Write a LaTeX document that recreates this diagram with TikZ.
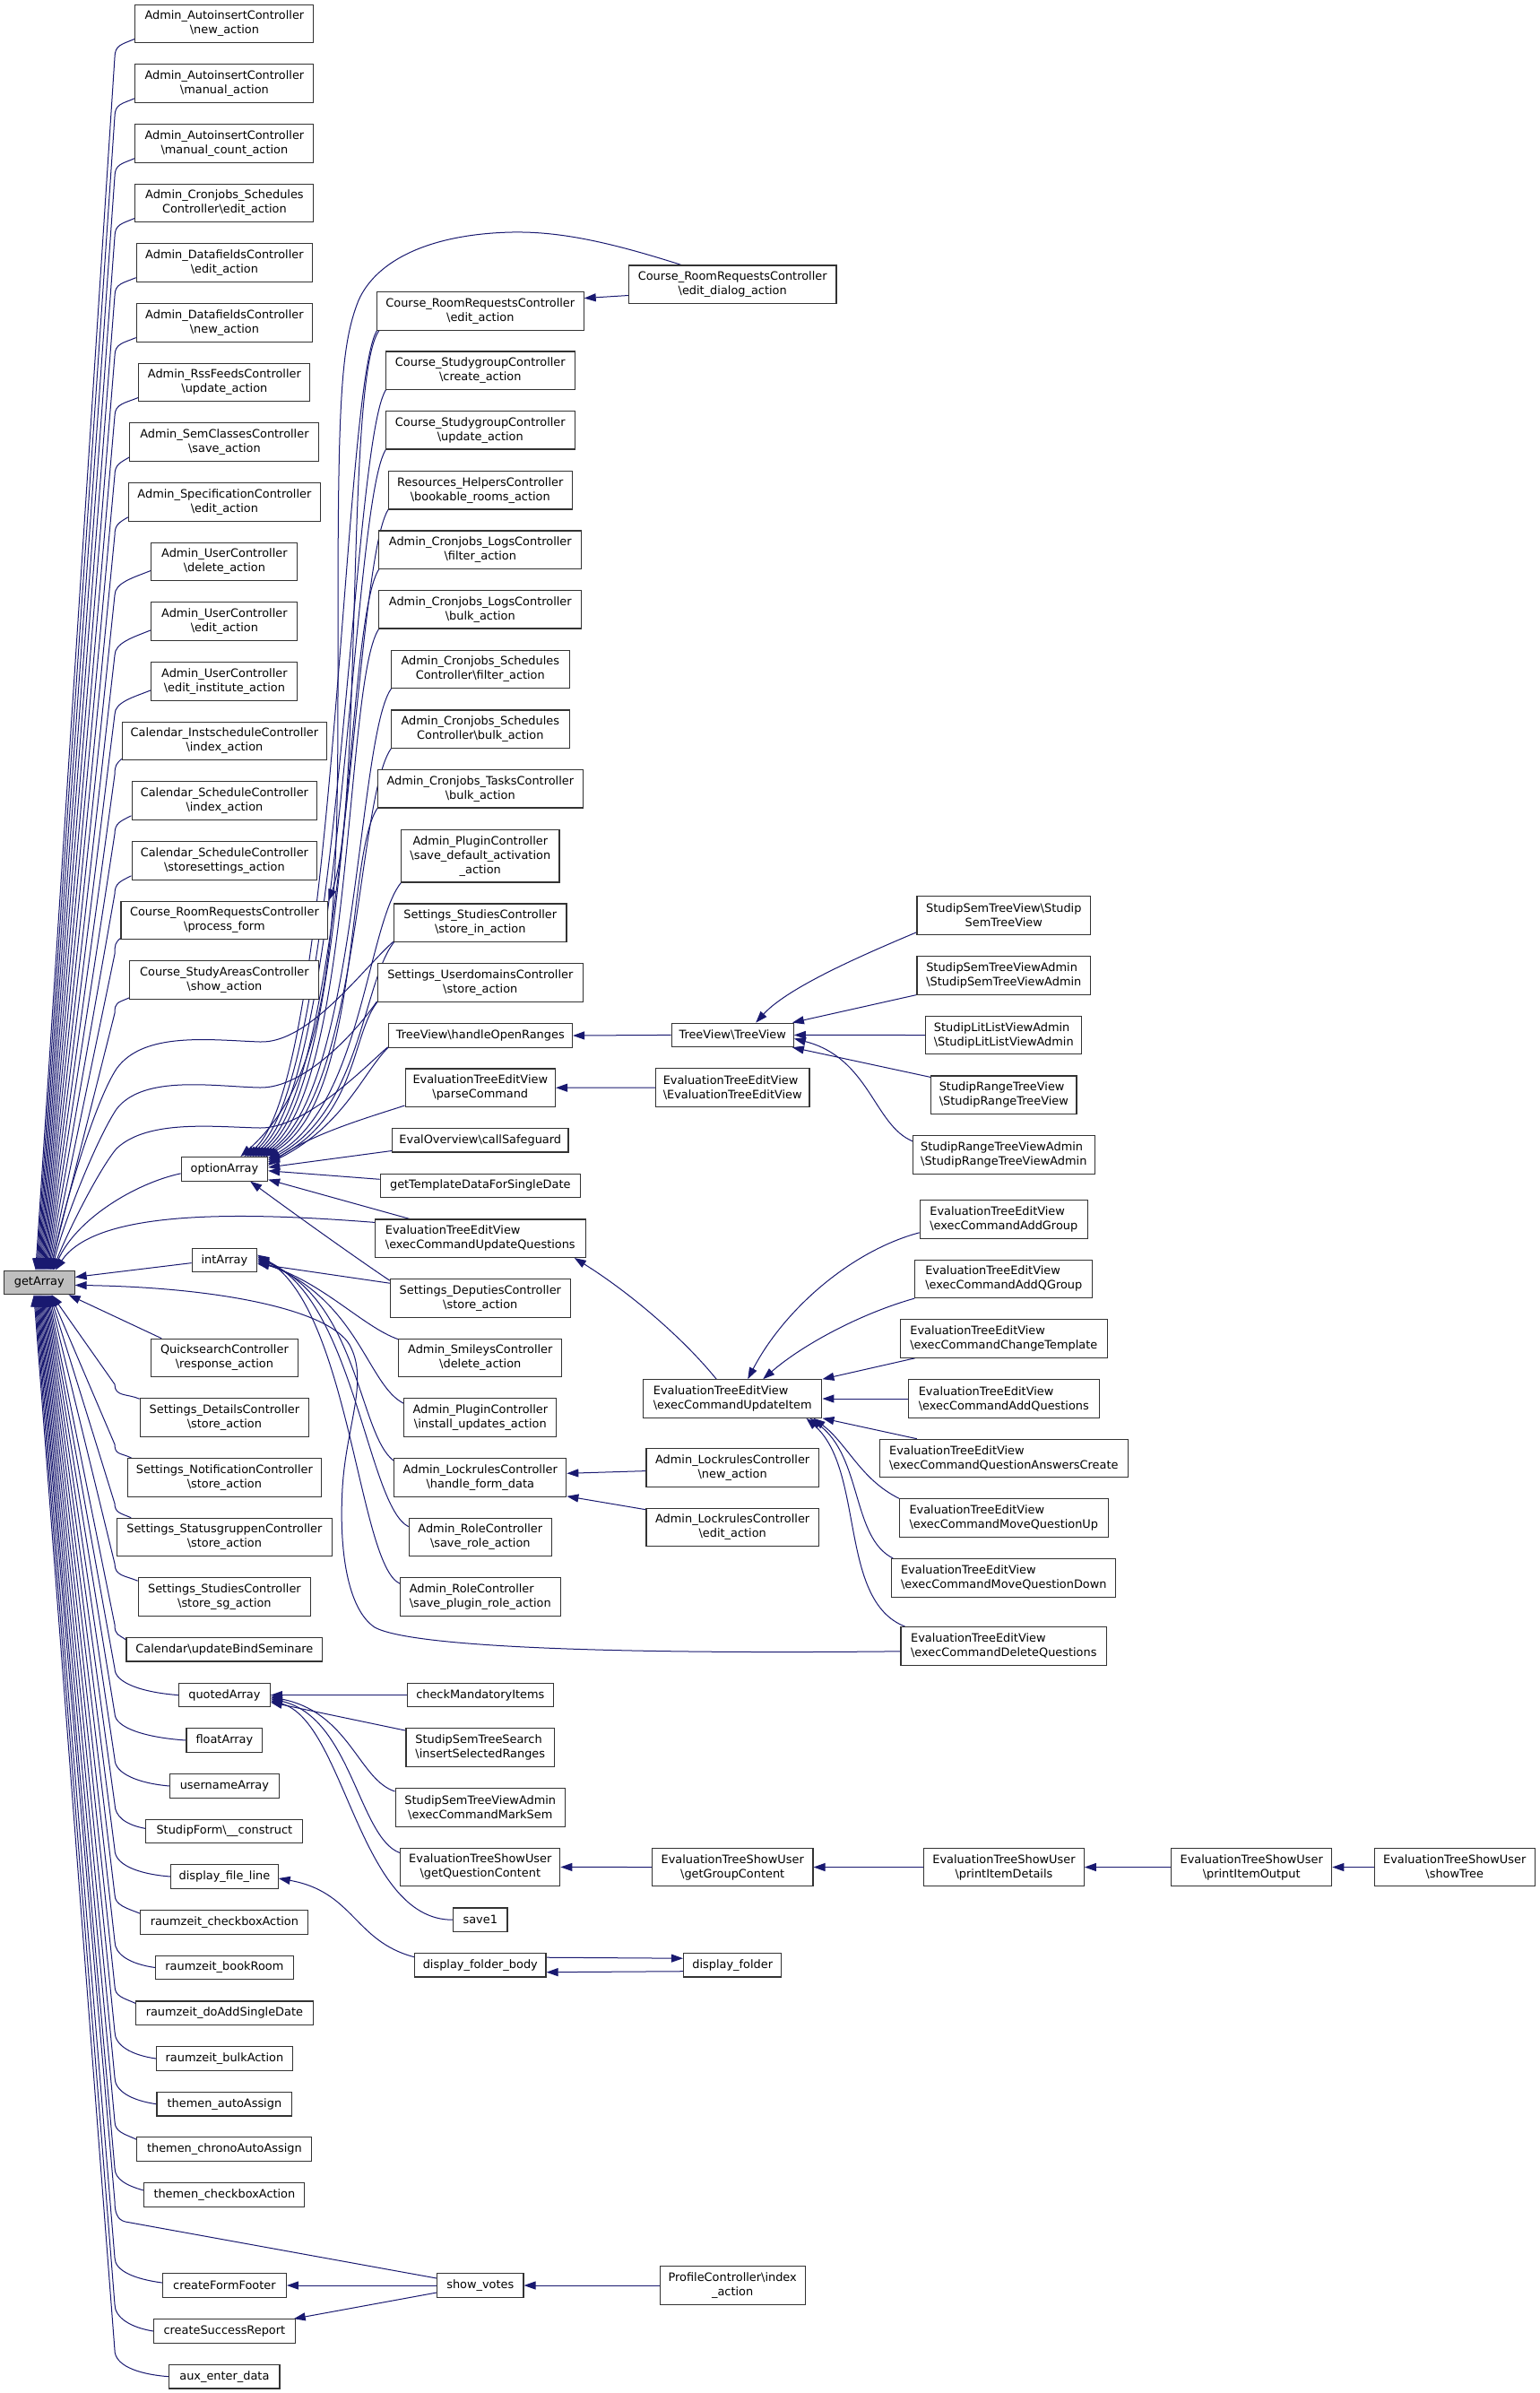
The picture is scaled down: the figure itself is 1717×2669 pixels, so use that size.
\documentclass[tikz,border=0pt]{standalone}
\usepackage{fontspec}
\setmainfont{DejaVu Sans}
\usetikzlibrary{arrows.meta,backgrounds}
\definecolor{eb}{HTML}{191970}
\newcommand\bs{\textbackslash}
\begin{document}
\begin{tikzpicture}[x=1pt,y=-1pt,
 box/.style={draw=black!80, line width=1.1pt, fill=white, inner sep=0pt, minimum height=26.5pt, align=center, font=\fontsize{12.9}{16}\selectfont},
 two/.style={minimum height=42.5pt},
 three/.style={minimum height=58.5pt},
 lft/.style={align=left},
 e/.style={draw=eb, line width=1pt, -{Triangle[length=13pt,width=9pt]}}]
\useasboundingbox (0,0) rectangle (1717,2669);
% ---------- left column ----------
\node[box,two,minimum width=199pt] (L1) at (250.4,26.6) {Admin\_AutoinsertController\\\bs new\_action};
\node[box,two,minimum width=199pt] (L2) at (250.4,92.9) {Admin\_AutoinsertController\\\bs manual\_action};
\node[box,two,minimum width=199pt] (L3) at (250.4,159.8) {Admin\_AutoinsertController\\\bs manual\_count\_action};
\node[box,two,minimum width=199pt] (L4) at (250.4,226.6) {Admin\_Cronjobs\_Schedules\\Controller\bs edit\_action};
\node[box,two,minimum width=196.4pt] (L5) at (250.4,292.9) {Admin\_DatafieldsController\\\bs edit\_action};
\node[box,two,minimum width=196.4pt] (L6) at (250.4,359.8) {Admin\_DatafieldsController\\\bs new\_action};
\node[box,two,minimum width=191pt] (L7) at (250.4,426.6) {Admin\_RssFeedsController\\\bs update\_action};
\node[box,two,minimum width=211pt] (L8) at (250.4,493.1) {Admin\_SemClassesController\\\bs save\_action};
\node[box,two,minimum width=214pt] (L9) at (250.4,560) {Admin\_SpecificationController\\\bs edit\_action};
\node[box,two,minimum width=163pt] (L10) at (250.4,626.6) {Admin\_UserController\\\bs delete\_action};
\node[box,two,minimum width=163pt] (L11) at (250.4,693) {Admin\_UserController\\\bs edit\_action};
\node[box,two,minimum width=163pt] (L12) at (250.4,760) {Admin\_UserController\\\bs edit\_institute\_action};
\node[box,two,minimum width=228pt] (L13) at (250.4,826.6) {Calendar\_InstscheduleController\\\bs index\_action};
\node[box,two,minimum width=206.7pt] (L14) at (250.4,893) {Calendar\_ScheduleController\\\bs index\_action};
\node[box,two,minimum width=206.7pt] (L15) at (250.4,960) {Calendar\_ScheduleController\\\bs storesettings\_action};
\node[box,two,minimum width=230.8pt] (L16) at (250.4,1026.6) {Course\_RoomRequestsController\\\bs process\_form};
\node[box,two,minimum width=211pt] (L17) at (250.4,1093) {Course\_StudyAreasController\\\bs show\_action};
\node[box,minimum width=96.4pt] (optionArray) at (250.4,1303.8) {optionArray};
\node[box,minimum width=72.3pt] (intArray) at (250.4,1405.6) {intArray};
\node[box,minimum width=78.6pt,fill=gray!50] (getArray) at (43.8,1430.4) {getArray};
\node[box,two,minimum width=163.4pt] (Quicksearch) at (250.4,1514.5) {QuicksearchController\\\bs response\_action};
\node[box,two,minimum width=188.4pt] (SetDetails) at (250.4,1581) {Settings\_DetailsController\\\bs store\_action};
\node[box,two,minimum width=216pt] (SetNotif) at (250.4,1648) {Settings\_NotificationController\\\bs store\_action};
\node[box,two,minimum width=239.3pt] (SetStatus) at (250.4,1714.5) {Settings\_StatusgruppenController\\\bs store\_action};
\node[box,two,minimum width=192.4pt] (SetStudiesSg) at (250.4,1781) {Settings\_StudiesController\\\bs store\_sg\_action};
\node[box,minimum width=218.8pt] (CalUpdate) at (250.4,1839.7) {Calendar\bs updateBindSeminare};
\node[box,minimum width=101.8pt] (quotedArray) at (250.4,1890.6) {quotedArray};
\node[box,minimum width=84.8pt] (floatArray) at (250.4,1941) {floatArray};
\node[box,minimum width=121.4pt] (usernameArray) at (250.4,1992) {usernameArray};
\node[box,minimum width=175pt] (StudipForm) at (250.4,2042.4) {StudipForm\bs\_\_construct};
\node[box,minimum width=119.6pt] (displayFileLine) at (250.4,2093) {display\_file\_line};
\node[box,minimum width=187pt] (rzCheckbox) at (250.4,2144) {raumzeit\_checkboxAction};
\node[box,minimum width=153.6pt] (rzBookRoom) at (250.4,2194.5) {raumzeit\_bookRoom};
\node[box,minimum width=197.3pt] (rzAddSingle) at (250.4,2245.2) {raumzeit\_doAddSingleDate};
\node[box,minimum width=151.8pt] (rzBulk) at (250.4,2296) {raumzeit\_bulkAction};
\node[box,minimum width=150.9pt] (thAuto) at (250.4,2346.7) {themen\_autoAssign};
\node[box,minimum width=195pt] (thChrono) at (250.4,2397) {themen\_chronoAutoAssign};
\node[box,minimum width=179pt] (thCheckbox) at (250.4,2448) {themen\_checkboxAction};
\node[box,minimum width=138pt] (createFormFooter) at (250.4,2549) {createFormFooter};
\node[box,minimum width=157.6pt] (createSuccessReport) at (250.4,2600) {createSuccessReport};
\node[box,minimum width=123.2pt] (auxEnterData) at (250.4,2650.7) {aux\_enter\_data};
% ---------- second column ----------
\node[box,two,minimum width=230.7pt] (editAction) at (535.8,346.9) {Course\_RoomRequestsController\\\bs edit\_action};
\node[box,two,minimum width=210.9pt] (StudyCreate) at (535.8,413.2) {Course\_StudygroupController\\\bs create\_action};
\node[box,two,minimum width=210.9pt] (StudyUpdate) at (535.8,479.7) {Course\_StudygroupController\\\bs update\_action};
\node[box,two,minimum width=205.5pt] (ResHelpers) at (535.8,546.7) {Resources\_HelpersController\\\bs bookable\_rooms\_action};
\node[box,two,minimum width=226.2pt] (LogsFilter) at (535.8,613.2) {Admin\_Cronjobs\_LogsController\\\bs filter\_action};
\node[box,two,minimum width=226.2pt] (LogsBulk) at (535.8,679.7) {Admin\_Cronjobs\_LogsController\\\bs bulk\_action};
\node[box,two,minimum width=199pt] (SchedFilter) at (535.8,746.6) {Admin\_Cronjobs\_Schedules\\Controller\bs filter\_action};
\node[box,two,minimum width=199pt] (SchedBulk) at (535.8,813.2) {Admin\_Cronjobs\_Schedules\\Controller\bs bulk\_action};
\node[box,two,minimum width=229.5pt] (TasksBulk) at (535.8,879.7) {Admin\_Cronjobs\_TasksController\\\bs bulk\_action};
\node[box,three,minimum width=176.3pt] (PluginSave) at (535.8,954.7) {Admin\_PluginController\\\bs save\_default\_activation\\\_action};
\node[box,two,minimum width=192.4pt] (SetStudiesIn) at (535.8,1029.2) {Settings\_StudiesController\\\bs store\_in\_action};
\node[box,two,minimum width=229.5pt] (SetUserdomains) at (535.8,1096) {Settings\_UserdomainsController\\\bs store\_action};
\node[box,minimum width=205.4pt] (handleOpen) at (535.8,1155) {TreeView\bs handleOpenRanges};
\node[box,two,minimum width=167.4pt] (parseCommand) at (535.8,1213.2) {EvaluationTreeEditView\\\bs parseCommand};
\node[box,minimum width=196.4pt] (callSafeguard) at (535.8,1271.7) {EvalOverview\bs callSafeguard};
\node[box,minimum width=223.2pt] (getTemplate) at (535.8,1322.3) {getTemplateDataForSingleDate};
\node[box,two,lft,minimum width=234.8pt] (UpdateQuestions) at (535.8,1381.2) {EvaluationTreeEditView\\\bs execCommandUpdateQuestions};
\node[box,two,minimum width=200.9pt] (Deputies) at (535.8,1448) {Settings\_DeputiesController\\\bs store\_action};
\node[box,two,minimum width=182.1pt] (Smileys) at (535.8,1514.5) {Admin\_SmileysController\\\bs delete\_action};
\node[box,two,minimum width=170pt] (PluginInstall) at (535.8,1581) {Admin\_PluginController\\\bs install\_updates\_action};
\node[box,two,minimum width=192pt] (LockHandle) at (535.8,1648) {Admin\_LockrulesController\\\bs handle\_form\_data};
\node[box,two,minimum width=159pt] (RoleSave) at (535.8,1714.5) {Admin\_RoleController\\\bs save\_role\_action};
\node[box,two,lft,minimum width=178.6pt] (RolePlugin) at (535.8,1781) {Admin\_RoleController\\\bs save\_plugin\_role\_action};
\node[box,minimum width=162.5pt] (checkMandatory) at (535.8,1890.6) {checkMandatoryItems};
\node[box,two,lft,minimum width=165.6pt] (SemTreeSearch) at (535.8,1948.9) {StudipSemTreeSearch\\\bs insertSelectedRanges};
\node[box,two,minimum width=189.3pt] (MarkSem) at (535.8,2015.8) {StudipSemTreeViewAdmin\\\bs execCommandMarkSem};
\node[box,two,minimum width=178pt] (getQuestionContent) at (535.8,2082.4) {EvaluationTreeShowUser\\\bs getQuestionContent};
\node[box,minimum width=60.3pt] (save1) at (535.8,2141.2) {save1};
\node[box,minimum width=146.4pt] (displayFolderBody) at (535.8,2191.7) {display\_folder\_body};
\node[box,minimum width=96.4pt] (showVotes) at (535.8,2549) {show\_votes};
% ---------- third column ----------
\node[box,two,minimum width=231.5pt] (editDialog) at (817.2,317.2) {Course\_RoomRequestsController\\\bs edit\_dialog\_action};
\node[box,minimum width=136.3pt] (TreeViewTV) at (817.2,1154.4) {TreeView\bs TreeView};
\node[box,two,lft,minimum width=171.5pt] (ETEV) at (817.2,1213) {EvaluationTreeEditView\\\bs EvaluationTreeEditView};
\node[box,two,lft,minimum width=199.4pt] (UpdateItem) at (817.2,1560) {EvaluationTreeEditView\\\bs execCommandUpdateItem};
\node[box,two,minimum width=192.5pt] (LockNew) at (817.2,1637) {Admin\_LockrulesController\\\bs new\_action};
\node[box,two,minimum width=192.5pt] (LockEdit) at (817.2,1703.5) {Admin\_LockrulesController\\\bs edit\_action};
\node[box,two,minimum width=179.5pt] (getGroupContent) at (817.2,2082.5) {EvaluationTreeShowUser\\\bs getGroupContent};
\node[box,minimum width=109.4pt] (displayFolder) at (817.2,2191.7) {display\_folder};
\node[box,two,minimum width=162pt] (ProfileIndex) at (817.2,2549) {ProfileController\bs index\\\_action};
% ---------- fourth column ----------
\node[box,two,minimum width=193.7pt] (SemTreeView) at (1119.8,1021) {StudipSemTreeView\bs Studip\\SemTreeView};
\node[box,two,lft,minimum width=193.7pt] (SemTreeViewAdmin) at (1119.8,1087.8) {StudipSemTreeViewAdmin\\\bs StudipSemTreeViewAdmin};
\node[box,two,lft,minimum width=174pt] (LitList) at (1119.8,1154.5) {StudipLitListViewAdmin\\\bs StudipLitListViewAdmin};
\node[box,two,lft,minimum width=162.4pt] (RangeTree) at (1119.8,1221.2) {StudipRangeTreeView\\\bs StudipRangeTreeView};
\node[box,two,lft,minimum width=202.5pt] (RangeTreeAdmin) at (1119.8,1287.8) {StudipRangeTreeViewAdmin\\\bs StudipRangeTreeViewAdmin};
\node[box,two,lft,minimum width=187.2pt] (AddGroup) at (1119.8,1360) {EvaluationTreeEditView\\\bs execCommandAddGroup};
\node[box,two,lft,minimum width=197.9pt] (AddQGroup) at (1119.8,1426.3) {EvaluationTreeEditView\\\bs execCommandAddQGroup};
\node[box,two,lft,minimum width=231.2pt] (ChangeTemplate) at (1119.8,1493) {EvaluationTreeEditView\\\bs execCommandChangeTemplate};
\node[box,two,lft,minimum width=212.8pt] (AddQuestions) at (1119.8,1560) {EvaluationTreeEditView\\\bs execCommandAddQuestions};
\node[box,two,lft,minimum width=277pt] (QACreate) at (1119.8,1626.5) {EvaluationTreeEditView\\\bs execCommandQuestionAnswersCreate};
\node[box,two,lft,minimum width=232.7pt] (MoveUp) at (1119.8,1693) {EvaluationTreeEditView\\\bs execCommandMoveQuestionUp};
\node[box,two,lft,minimum width=250pt] (MoveDown) at (1119.8,1759.8) {EvaluationTreeEditView\\\bs execCommandMoveQuestionDown};
\node[box,two,lft,minimum width=229.6pt] (DeleteQ) at (1119.8,1835.8) {EvaluationTreeEditView\\\bs execCommandDeleteQuestions};
\node[box,two,minimum width=178.6pt] (printItemDetails) at (1120,2082.5) {EvaluationTreeShowUser\\\bs printItemDetails};
\node[box,two,minimum width=179pt] (printItemOutput) at (1396.2,2082.5) {EvaluationTreeShowUser\\\bs printItemOutput};
\node[box,two,minimum width=179pt] (showTree) at (1622.7,2082.5) {EvaluationTreeShowUser\\\bs showTree};
% ================= edges =================
\begin{scope}[on background layer]
\fill[white] (0,0) rectangle (1717,2669);
% upper left -> getArray
\draw[e] ([yshift=5pt]L1.south west) .. controls +(-14,6) and +(0,-14) .. (128,64) -- ([xshift=-4pt]getArray.north);
\draw[e] ([yshift=5pt]L2.south west) .. controls +(-14,6) and +(0,-14) .. (128,130) -- ([xshift=-3pt]getArray.north);
\draw[e] ([yshift=5pt]L3.south west) .. controls +(-14,6) and +(0,-14) .. (128,197) -- ([xshift=-2pt]getArray.north);
\draw[e] ([yshift=5pt]L4.south west) .. controls +(-14,6) and +(0,-14) .. (128,264) -- ([xshift=-1pt]getArray.north);
\draw[e] ([yshift=5pt]L5.south west) .. controls +(-14,6) and +(0,-14) .. (128,330) -- ([xshift=0pt]getArray.north);
\draw[e] ([yshift=5pt]L6.south west) .. controls +(-14,6) and +(0,-14) .. (128,397) -- ([xshift=1pt]getArray.north);
\draw[e] ([yshift=5pt]L7.south west) .. controls +(-14,6) and +(0,-14) .. (128,464) -- ([xshift=2pt]getArray.north);
\draw[e] ([yshift=5pt]L8.south west) .. controls +(-10,6) and +(0,-12) .. (128,530) -- ([xshift=3pt]getArray.north);
\draw[e] ([yshift=5pt]L9.south west) .. controls +(-10,6) and +(0,-12) .. (128,597) -- ([xshift=4pt]getArray.north);
\draw[e] ([yshift=12pt]L10.south west) .. controls +(-20,8) and +(0,-14) .. (128,664) -- ([xshift=5pt]getArray.north);
\draw[e] ([yshift=12pt]L11.south west) .. controls +(-20,8) and +(0,-14) .. (128,731) -- ([xshift=6pt]getArray.north);
\draw[e] ([yshift=12pt]L12.south west) .. controls +(-20,8) and +(0,-14) .. (128,797) -- ([xshift=7pt]getArray.north);
\draw[e] ([yshift=2pt]L13.south west) .. controls +(-6,5) and +(0,-10) .. (128,864) -- ([xshift=8pt]getArray.north);
\draw[e] ([yshift=5pt]L14.south west) .. controls +(-12,6) and +(0,-12) .. (128,930) -- ([xshift=9pt]getArray.north);
\draw[e] ([yshift=5pt]L15.south west) .. controls +(-12,6) and +(0,-12) .. (128,997) -- ([xshift=10pt]getArray.north);
\draw[e] ([yshift=2pt]L16.south west) .. controls +(-6,5) and +(0,-10) .. (128,1064) -- ([xshift=11pt]getArray.north);
\draw[e] ([yshift=2pt]L17.south west) .. controls +(-14,6) and +(0,-12) .. (128,1130) -- ([xshift=12pt]getArray.north);
% long curves from getArray to second column (A, B, C)
\draw[e] ([yshift=1pt]SetStudiesIn.south west) .. controls (405,1080) and (345,1164) .. (290,1162) .. controls (235,1160) and (160,1150) .. (130,1192) .. controls (105,1230) and (70,1350) .. ([xshift=13pt]getArray.north);
\draw[e] ([yshift=1pt]SetUserdomains.south west) .. controls (398,1150) and (340,1214) .. (290,1213) .. controls (240,1212) and (160,1198) .. (130,1237) .. controls (108,1270) and (72,1360) .. ([xshift=14pt]getArray.north);
\draw[e] ([yshift=1pt]handleOpen.south west) .. controls (405,1192) and (340,1259) .. (290,1258) .. controls (240,1257) and (165,1248) .. (130,1281) .. controls (110,1305) and (75,1375) .. ([xshift=15pt]getArray.north);
\draw[e] ([yshift=-5pt]optionArray.west) .. controls (150,1320) and (85,1360) .. ([xshift=16pt]getArray.north);
\draw[e] ([yshift=-4pt]UpdateQuestions.north west) .. controls (250,1350) and (105,1352) .. ([xshift=18pt]getArray.north);
\draw[e] ([yshift=-3pt]intArray.west) -- ([yshift=6pt]getArray.east);
\draw[e] ([yshift=-6pt]DeleteQ.west) .. controls (700,1845) and (460,1838) .. (418,1815) .. controls (388,1795) and (378,1730) .. (382,1660) .. controls (386,1590) and (412,1540) .. (390,1500) .. controls (368,1462) and (250,1436) .. ([yshift=-3pt]getArray.east);
% lower left -> getArray
\draw[e] ([xshift=12pt]Quicksearch.north west) -- ([xshift=-7pt]getArray.south east);
\draw[e] ([yshift=-1pt]SetDetails.north west) .. controls +(-14,-6) and +(0,14) .. (128,1544) -- ([xshift=14pt]getArray.south);
\draw[e] ([xshift=5pt]SetNotif.north west) .. controls +(-12,-6) and +(0,12) .. (128,1611) -- ([xshift=13pt]getArray.south);
\draw[e] ([xshift=16pt]SetStatus.north west) .. controls +(-12,-5) and +(0,10) .. (128,1677) -- ([xshift=12pt]getArray.south);
\draw[e] ([yshift=-4pt]SetStudiesSg.north west) .. controls +(-14,-6) and +(0,14) .. (128,1744) -- ([xshift=11pt]getArray.south);
\draw[e] ([yshift=-3pt]CalUpdate.north west) .. controls +(-8,-6) and +(0,12) .. (128,1812) -- ([xshift=10pt]getArray.south);
\draw[e] (quotedArray.west) .. controls +(-40,-3) and +(0,16) .. (128,1861) -- ([xshift=9pt]getArray.south);
\draw[e] (floatArray.west) .. controls +(-45,-3) and +(0,16) .. (128,1911) -- ([xshift=8pt]getArray.south);
\draw[e] (usernameArray.west) .. controls +(-35,-3) and +(0,16) .. (128,1962) -- ([xshift=7pt]getArray.south);
\draw[e] ([yshift=3pt]StudipForm.west) .. controls +(-22,-4) and +(0,14) .. (128,2012) -- ([xshift=6pt]getArray.south);
\draw[e] (displayFileLine.west) .. controls +(-38,-3) and +(0,16) .. (128,2063) -- ([xshift=5pt]getArray.south);
\draw[e] ([yshift=-4pt]rzCheckbox.north west) .. controls +(-15,-6) and +(0,12) .. (128,2113) -- ([xshift=4pt]getArray.south);
\draw[e] (rzBookRoom.west) .. controls +(-28,-4) and +(0,15) .. (128,2165) -- ([xshift=3pt]getArray.south);
\draw[e] ([yshift=-3pt]rzAddSingle.north west) .. controls +(-13,-6) and +(0,12) .. (128,2215) -- ([xshift=2pt]getArray.south);
\draw[e] (rzBulk.west) .. controls +(-28,-4) and +(0,15) .. (128,2266) -- ([xshift=1pt]getArray.south);
\draw[e] (thAuto.west) .. controls +(-28,-4) and +(0,15) .. (128,2317) -- ([xshift=0pt]getArray.south);
\draw[e] ([yshift=-3pt]thChrono.north west) .. controls +(-13,-6) and +(0,12) .. (128,2366) -- ([xshift=-1pt]getArray.south);
\draw[e] ([yshift=5pt]thCheckbox.west) .. controls +(-18,-5) and +(0,13) .. (128,2418) -- ([xshift=-2pt]getArray.south);
\draw[e] ([yshift=8pt]showVotes.west) -- (140,2478) .. controls (131,2476) and (128,2468) .. (128,2455) -- ([xshift=-3pt]getArray.south);
\draw[e] ([yshift=3pt]createFormFooter.west) .. controls +(-30,-4) and +(0,15) .. (128,2518) -- ([xshift=-4pt]getArray.south);
\draw[e] (createSuccessReport.west) .. controls +(-25,-4) and +(0,15) .. (128,2570) -- ([xshift=-5pt]getArray.south);
\draw[e] (auxEnterData.west) .. controls +(-38,-3) and +(0,16) .. (128,2621) -- ([xshift=-6pt]getArray.south);
% second column -> optionArray
\draw[e] ([xshift=59pt]editDialog.north west) .. controls (680,270) and (625,258) .. (571,259) .. controls (480,261) and (420,290) .. (400,335) .. controls (380,385) and (377,450) .. (377,700) .. controls (377,1000) and (380,1190) .. ([xshift=18pt]optionArray.north);
\draw[e] ([shift={(2pt,2pt)}]editAction.south west) .. controls (382,413) and (376,1210) .. ([xshift=22pt]optionArray.north);
\draw[e] ([shift={(2pt,2pt)}]StudyCreate.south west) .. controls (392,479) and (380,1212) .. ([xshift=25pt]optionArray.north);
\draw[e] ([shift={(2pt,2pt)}]StudyUpdate.south west) .. controls (392,546) and (384,1214) .. ([xshift=28pt]optionArray.north);
\draw[e] ([shift={(2pt,2pt)}]ResHelpers.south west) .. controls (395,613) and (388,1216) .. ([xshift=31pt]optionArray.north);
\draw[e] ([shift={(2pt,2pt)}]LogsFilter.south west) .. controls (384,680) and (392,1218) .. ([xshift=34pt]optionArray.north);
\draw[e] ([shift={(2pt,2pt)}]LogsBulk.south west) .. controls (384,746) and (396,1220) .. ([xshift=37pt]optionArray.north);
\draw[e] ([shift={(2pt,2pt)}]SchedFilter.south west) .. controls (398,813) and (400,1222) .. ([xshift=40pt]optionArray.north);
\draw[e] ([shift={(2pt,2pt)}]SchedBulk.south west) .. controls (398,880) and (402,1224) .. ([xshift=43pt]optionArray.north);
\draw[e] ([shift={(2pt,2pt)}]TasksBulk.south west) .. controls (385,946) and (404,1228) .. ([xshift=46pt]optionArray.north);
\draw[e] ([shift={(2pt,2pt)}]PluginSave.south west) .. controls (410,1025) and (404,1232) .. ([yshift=-2pt]optionArray.north east);
\draw[e] ([shift={(2pt,2pt)}]SetStudiesIn.south west) .. controls (405,1090) and (404,1238) .. ([yshift=-4pt]optionArray.north east);
\draw[e] ([shift={(2pt,2pt)}]SetUserdomains.south west) .. controls (392,1150) and (400,1245) .. ([yshift=-6pt]optionArray.north east);
\draw[e] ([shift={(2pt,2pt)}]handleOpen.south west) .. controls (405,1195) and (385,1255) .. ([yshift=-8pt]optionArray.north east);
\draw[e] ([yshift=2pt]parseCommand.south west) .. controls (415,1245) and (345,1265) .. ([yshift=-10pt]optionArray.north east);
\draw[e] ([yshift=2pt]callSafeguard.south west) -- ([yshift=-12pt]optionArray.north east);
\draw[e] ([yshift=7pt]getTemplate.west) -- ([yshift=-2pt]optionArray.east);
\draw[e] ([xshift=39pt]UpdateQuestions.north west) -- ([yshift=2pt]optionArray.south east);
\draw[e] ([yshift=-2pt]Deputies.north west) .. controls (400,1405) and (330,1355) .. ([xshift=-20pt]optionArray.south east);
\draw[e] ([xshift=3pt]editAction.south west) .. controls (385,420) and (405,900) .. (L16.north east);
% second column -> intArray
\draw[e] ([yshift=-5pt]Deputies.north west) -- ([yshift=-4pt]intArray.east);
\draw[e] ([yshift=-1pt]Smileys.north west) .. controls (405,1480) and (360,1430) .. ([yshift=-2pt]intArray.east);
\draw[e] ([yshift=-6pt]PluginInstall.north west) .. controls (410,1545) and (400,1450) .. ([yshift=0pt]intArray.east);
\draw[e] ([yshift=-3pt]LockHandle.north west) .. controls (400,1600) and (400,1450) .. ([yshift=2pt]intArray.east);
\draw[e] ([yshift=-10pt]RoleSave.north west) .. controls (410,1680) and (395,1450) .. ([yshift=4pt]intArray.east);
\draw[e] ([yshift=-7pt]RolePlugin.north west) .. controls (400,1745) and (390,1460) .. ([yshift=6pt]intArray.east);
% second column -> quotedArray
\draw[e] (checkMandatory.west) -- (quotedArray.east);
\draw[e] ([yshift=-3pt]SemTreeSearch.north west) -- ([yshift=-8pt]quotedArray.east);
\draw[e] ([yshift=-4pt]MarkSem.north west) .. controls (400,1985) and (390,1910) .. ([yshift=-2pt]quotedArray.east);
\draw[e] ([yshift=-6pt]getQuestionContent.north west) .. controls (400,2050) and (392,1915) .. ([yshift=-4pt]quotedArray.east);
\draw[e] (save1.west) .. controls (400,2142) and (385,1920) .. ([yshift=-6pt]quotedArray.east);
% display folder
\draw[e] ([yshift=9pt]displayFolderBody.west) .. controls (395,2165) and (395,2110) .. ([yshift=-2pt]displayFileLine.east);
\draw[e] ([yshift=8.5pt]displayFolderBody.east) -- ([yshift=7.5pt]displayFolder.west);
\draw[e] ([yshift=-7pt]displayFolder.west) -- ([yshift=-8pt]displayFolderBody.east);
% show votes
\draw[e] (ProfileIndex.west) -- (showVotes.east);
\draw[e] (showVotes.west) -- (createFormFooter.east);
\draw[e] ([yshift=-8pt]showVotes.west) -- ([xshift=-2pt]createSuccessReport.north east);
% show user chain
\draw[e] (getGroupContent.west) -- (getQuestionContent.east);
\draw[e] (printItemDetails.west) -- (getGroupContent.east);
\draw[e] (printItemOutput.west) -- (printItemDetails.east);
\draw[e] (showTree.west) -- (printItemOutput.east);
% right part
\draw[e] ([yshift=-12.3pt]editDialog.west) -- ([yshift=14.3pt]editAction.east);
\draw[e] (TreeViewTV.west) -- (handleOpen.east);
\draw[e] (ETEV.west) -- (parseCommand.east);
\draw[e] ([yshift=3pt]SemTreeView.south west) .. controls (970,1062) and (880,1100) .. ([xshift=26pt]TreeViewTV.north);
\draw[e] (SemTreeViewAdmin.south west) -- ([xshift=-2pt]TreeViewTV.north east);
\draw[e] (LitList.west) -- (TreeViewTV.east);
\draw[e] ([yshift=-2pt]RangeTree.north west) -- ([xshift=-2pt]TreeViewTV.south east);
\draw[e] ([yshift=15pt]RangeTreeAdmin.west) .. controls (975,1255) and (970,1180) .. ([yshift=-4pt]TreeViewTV.east);
\draw[e] ([yshift=7pt]AddGroup.south west) .. controls (950,1395) and (875,1460) .. ([xshift=17pt]UpdateItem.north);
\draw[e] (AddQGroup.south west) .. controls (960,1465) and (895,1500) .. ([xshift=34pt]UpdateItem.north);
\draw[e] ([xshift=17pt]ChangeTemplate.south west) -- (UpdateItem.north east);
\draw[e] (AddQuestions.west) -- (UpdateItem.east);
\draw[e] ([xshift=42pt]QACreate.north west) -- (UpdateItem.south east);
\draw[e] (MoveUp.north west) .. controls (960,1650) and (945,1610) .. ([xshift=-10pt]UpdateItem.south east);
\draw[e] ([xshift=2pt]MoveDown.north west) .. controls (950,1715) and (962,1625) .. ([xshift=-14pt]UpdateItem.south east);
\draw[e] ([xshift=5pt]DeleteQ.north west) .. controls (935,1785) and (965,1640) .. ([xshift=-18pt]UpdateItem.south east);
\draw[e] ([xshift=-18pt]UpdateItem.north) .. controls (760,1490) and (700,1440) .. ([xshift=-13pt]UpdateQuestions.south east);
\draw[e] ([yshift=-3.6pt]LockNew.west) -- ([yshift=4.7pt]LockHandle.east);
\draw[e] ([yshift=-2pt]LockEdit.north west) -- ([yshift=1pt]LockHandle.south east);
\end{scope}
\end{tikzpicture}
\end{document}
